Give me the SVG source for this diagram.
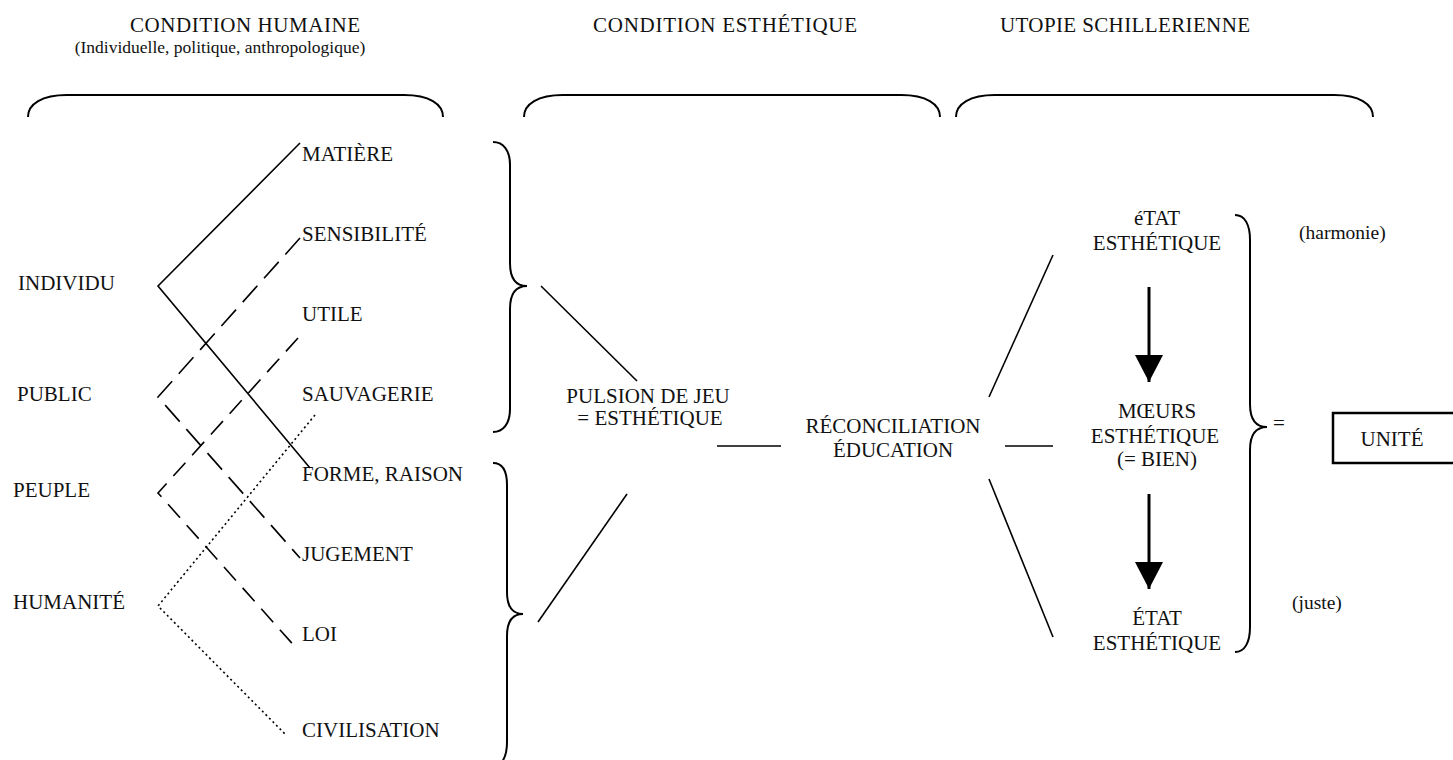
<svg xmlns="http://www.w3.org/2000/svg" width="1453" height="760" viewBox="0 0 1453 760">
<style>
text{font-family:"Liberation Serif","Times New Roman",serif;fill:#111;}
.h{font-size:21px;text-anchor:middle;}
.s{font-size:17.5px;text-anchor:middle;}
.l{font-size:21px;}
.m{font-size:21px;text-anchor:middle;}
.p{font-size:19.5px;}
.br{fill:none;stroke:#000;stroke-width:2;}
.ln{fill:none;stroke:#000;stroke-width:1.6;}
.d1{stroke-dasharray:22 10;}
.d2{stroke-dasharray:18 10;}
.dt{stroke-dasharray:2 3;}
.ar{stroke:#000;stroke-width:3;fill:none;}
</style>
<defs>
<marker id="ah" viewBox="0 0 27 28" markerWidth="27" markerHeight="28" refX="27" refY="14" orient="auto" markerUnits="userSpaceOnUse">
<path d="M0,0 L27,14 L0,28 z" fill="#000"/>
</marker>
</defs>
<rect width="1453" height="760" fill="#fff"/>

<g id="headers">
<text class="h" x="245" y="32" textLength="230" lengthAdjust="spacing">CONDITION HUMAINE</text>
<text class="s" x="220" y="53">(Individuelle, politique, anthropologique)</text>
<text class="h" x="725" y="32" textLength="264" lengthAdjust="spacing">CONDITION ESTHÉTIQUE</text>
<text class="h" x="1125" y="32" textLength="250" lengthAdjust="spacing">UTOPIE SCHILLERIENNE</text>
</g>

<g id="top-braces">
<path class="br" d="M28,117 C28,104 42,95 67,95 L404,95 C429,95 443,104 443,117"/>
<path class="br" d="M524,117 C524,104 538,95 563,95 L901,95 C926,95 940,104 940,117"/>
<path class="br" d="M956,117 C956,104 970,95 995,95 L1334,95 C1359,95 1373,104 1373,117"/>
</g>

<g id="node-individu"><text class="l" x="18" y="290">INDIVIDU</text></g>
<g id="node-public"><text class="l" x="17" y="401">PUBLIC</text></g>
<g id="node-peuple"><text class="l" x="13" y="497">PEUPLE</text></g>
<g id="node-humanite"><text class="l" x="13" y="609">HUMANITÉ</text></g>

<g id="node-matiere"><text class="l" x="302" y="161">MATIÈRE</text></g>
<g id="node-sensibilite"><text class="l" x="302" y="241">SENSIBILITÉ</text></g>
<g id="node-utile"><text class="l" x="302" y="321">UTILE</text></g>
<g id="node-sauvagerie"><text class="l" x="302" y="401">SAUVAGERIE</text></g>
<g id="node-forme"><text class="l" x="302" y="481">FORME, RAISON</text></g>
<g id="node-jugement"><text class="l" x="302" y="561">JUGEMENT</text></g>
<g id="node-loi"><text class="l" x="302" y="641">LOI</text></g>
<g id="node-civilisation"><text class="l" x="302" y="737">CIVILISATION</text></g>

<g id="node-pulsion">
<text class="m" x="648" y="403">PULSION DE JEU</text>
<text class="m" x="650" y="425">= ESTHÉTIQUE</text>
</g>

<g id="node-reconciliation">
<text class="m" x="893" y="433">RÉCONCILIATION</text>
<text class="m" x="893" y="457">ÉDUCATION</text>
</g>

<g id="node-etat1">
<text class="m" x="1157" y="225">éTAT</text>
<text class="m" x="1157" y="250">ESTHÉTIQUE</text>
</g>
<g id="node-moeurs">
<text class="m" x="1157" y="418">MŒURS</text>
<text class="m" x="1155" y="443">ESTHÉTIQUE</text>
<text class="m" x="1157" y="466">(= BIEN)</text>
</g>
<g id="node-etat2">
<text class="m" x="1157" y="625">ÉTAT</text>
<text class="m" x="1157" y="650">ESTHÉTIQUE</text>
</g>

<g id="node-harmonie"><text class="p" x="1299" y="239">(harmonie)</text></g>
<g id="node-juste"><text class="p" x="1292" y="609">(juste)</text></g>
<g id="node-egal"><text class="l" x="1279" y="430" text-anchor="middle">=</text></g>

<g id="node-unite">
<rect x="1333" y="413" width="140" height="50" fill="none" stroke="#000" stroke-width="2.5"/>
<text class="m" x="1392" y="446">UNITÉ</text>
</g>

<g id="connectors">
<path class="ln" d="M300,143 L158,286 L310,468"/>
<path class="ln d1" d="M300,238 L158,397 L300,558"/>
<path class="ln d2" d="M298,338 L158,493 L298,650"/>
<path class="ln dt" d="M315,415 L158,606 L285,734"/>

<path class="br" d="M493,142 C503,142 510,150 510,165 L510,263 C510,278 515,286 527,286 C515,286 510,294 510,309 L510,409 C510,424 503,432 493,432"/>
<path class="br" d="M493,463 C502,463 507,470 507,485 L507,592 C507,607 512,614 523,614 C512,614 507,621 507,636 L507,742 C507,757 502,766 493,766"/>
<path class="br" d="M1235,215 C1245,215 1250,225 1250,240 L1250,404 C1250,420 1256,427 1267,427 C1256,427 1250,434 1250,450 L1250,627 C1250,642 1245,652 1235,652"/>

<line class="ln" x1="541" y1="286" x2="637" y2="381"/>
<line class="ln" x1="538" y1="622" x2="627" y2="494"/>
<line class="ln" x1="717" y1="446" x2="781" y2="446"/>
<line class="ln" x1="1005" y1="446" x2="1053" y2="446"/>
<line class="ln" x1="989" y1="397" x2="1053" y2="255"/>
<line class="ln" x1="989" y1="479" x2="1053" y2="637"/>

<line class="ar" x1="1149" y1="287" x2="1149" y2="382" marker-end="url(#ah)"/>
<line class="ar" x1="1149" y1="494" x2="1149" y2="589" marker-end="url(#ah)"/>
</g>
</svg>
